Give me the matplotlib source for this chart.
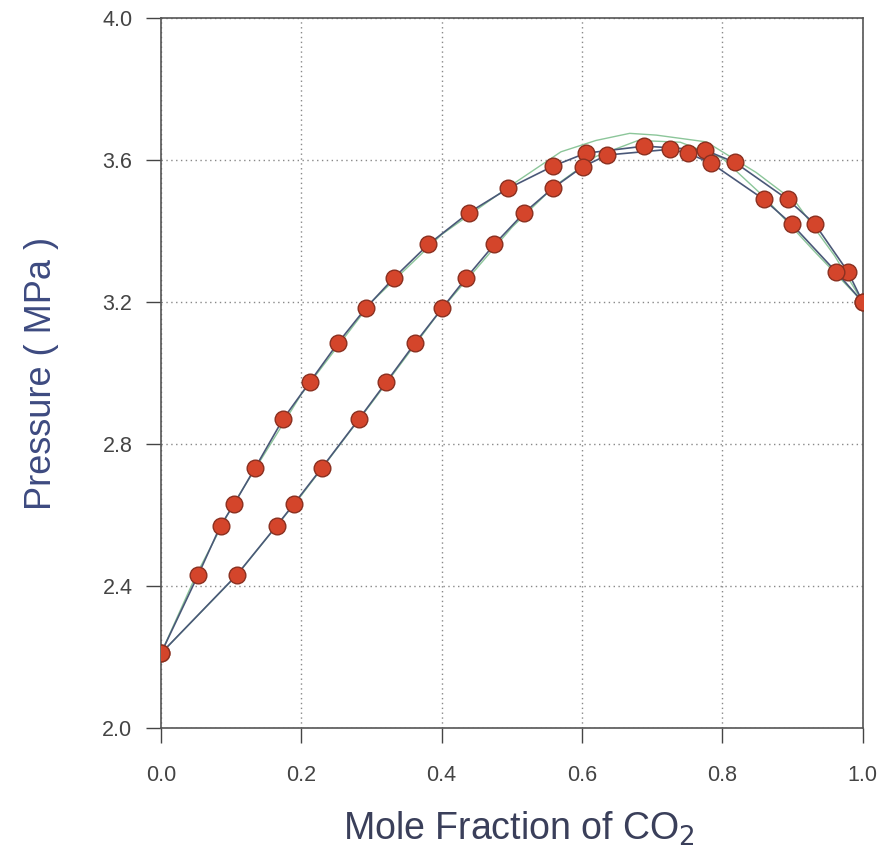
import matplotlib
matplotlib.use("Agg")
import matplotlib.pyplot as plt

plt.rcParams['font.family'] = ['Liberation Sans', 'DejaVu Sans']

# Bubble-point (upper) data
bubble_x = [0.0, 0.053, 0.085, 0.104, 0.134, 0.174, 0.212, 0.252, 0.292, 0.332, 0.381,
            0.439, 0.495, 0.559, 0.605, 0.689, 0.775, 0.818, 0.893, 0.932, 0.979, 1.0]
bubble_p = [2.21, 2.431, 2.570, 2.630, 2.732, 2.870, 2.974, 3.084, 3.183, 3.268, 3.362,
            3.452, 3.520, 3.583, 3.619, 3.639, 3.628, 3.593, 3.489, 3.419, 3.285, 3.20]

# Dew-point (lower) data
dew_x = [0.0, 0.108, 0.165, 0.189, 0.229, 0.282, 0.321, 0.362, 0.401, 0.435, 0.475,
         0.518, 0.558, 0.601, 0.636, 0.725, 0.751, 0.784, 0.859, 0.899, 0.962, 1.0]
dew_p = [2.21, 2.431, 2.570, 2.630, 2.732, 2.870, 2.974, 3.084, 3.183, 3.268, 3.362,
         3.452, 3.520, 3.581, 3.614, 3.630, 3.619, 3.591, 3.489, 3.419, 3.285, 3.20]

# Model curves (green)
model_bub_x = [0.0, 0.05, 0.1, 0.2, 0.3, 0.4, 0.5, 0.57, 0.62, 0.668, 0.706, 0.777, 0.848, 0.905, 0.96, 1.0]
model_bub_p = [2.21, 2.43, 2.62, 2.94, 3.20, 3.39, 3.53, 3.623, 3.655, 3.675, 3.670, 3.651, 3.565, 3.48, 3.33, 3.20]
model_dew_x = [0.0, 0.108, 0.2, 0.3, 0.4, 0.5, 0.56, 0.62, 0.68, 0.74, 0.8, 0.86, 0.93, 1.0]
model_dew_p = [2.21, 2.43, 2.655, 2.915, 3.18, 3.41, 3.525, 3.61, 3.655, 3.65, 3.605, 3.495, 3.345, 3.20]

x_ticks = [0.0, 0.2, 0.4, 0.6, 0.8, 1.0]
y_ticks = [2.0, 2.4, 2.8, 3.2, 3.6, 4.0]

fig = plt.figure(figsize=(8.94, 8.55), dpi=100)
ax = fig.add_axes([0.180, 0.1485, 0.785, 0.8305])

line_col = '#4a5878'
green = '#8cc69a'
ax.plot(model_bub_x, model_bub_p, color=green, lw=1.0, zorder=2)
ax.plot(model_dew_x, model_dew_p, color=green, lw=1.0, zorder=2)
ax.plot(bubble_x, bubble_p, color=line_col, lw=1.2, zorder=3)
ax.plot(dew_x, dew_p, color=line_col, lw=1.2, zorder=3)

mk = dict(marker='o', ls='none', ms=12, mfc='#d4452b', mec='#8a3020', mew=1.0, zorder=4)
ax.plot(bubble_x, bubble_p, **mk)
ax.plot(dew_x, dew_p, **mk)

ax.set_xlim(0, 1)
ax.set_ylim(2.0, 4.0)
ax.set_xticks(x_ticks)
ax.set_yticks(y_ticks)
ax.set_xticklabels([f'{v:.1f}' for v in x_ticks])
ax.set_yticklabels([f'{v:.1f}' for v in y_ticks])
ax.tick_params(direction='out', length=10.5, width=1, color='#444444',
               labelsize=15.5, labelcolor='#444444')
ax.tick_params(axis='x', pad=16)
ax.tick_params(axis='y', pad=10)
ax.grid(True, color='#888888', ls=(0, (1, 2.5)), lw=1.0)
for s in ax.spines.values():
    s.set_color('#555555')
    s.set_linewidth(1.2)

fig.text(0.58, 0.0175, 'Mole Fraction of CO$_2$', fontsize=27, color='#3a3f5a',
         ha='center', va='baseline')
fig.text(0.046, 0.5637, 'Pressure ( MPa )', fontsize=26, color='#3d4a80',
         ha='center', va='center', rotation=90)

fig.savefig('out.png', dpi=100)
